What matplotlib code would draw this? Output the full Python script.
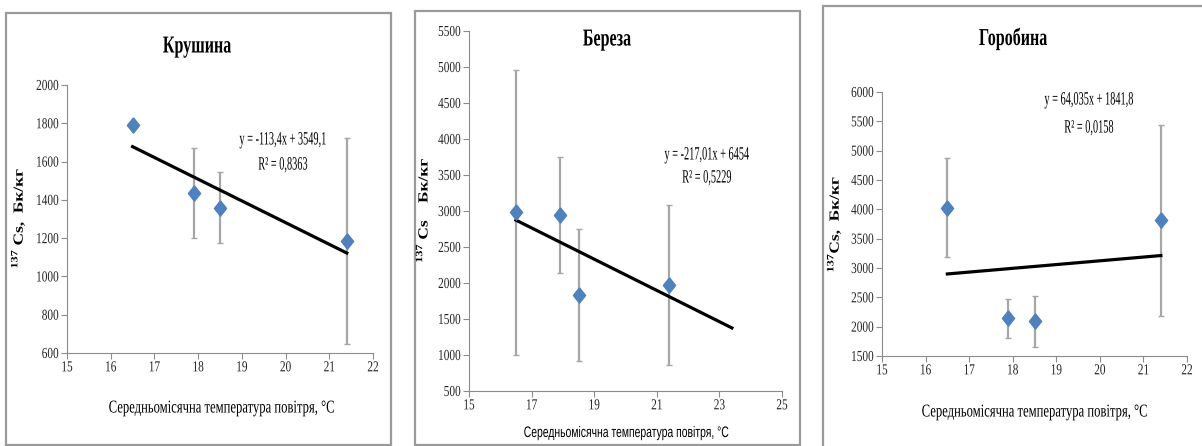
import matplotlib
matplotlib.use("Agg")
import matplotlib.pyplot as plt
import matplotlib.patches as patches
from matplotlib.patheffects import AbstractPathEffect
from matplotlib.transforms import Affine2D
import numpy as np

# -----------------------
# Data
# -----------------------

temp = [16.5, 17.9, 18.5, 21.4]

krushyna = [1790, 1435, 1360, 1185]
krushyna_err = [0, 235, 183, 538]

bereza = [2980, 2940, 1830, 1970]
bereza_err = [1980, 805, 920, 1115]

horobyna = [4030, 2140, 2090, 3810]
horobyna_err = [850, 340, 430, 1630]

# trend coefficients (slope, intercept)
trend_krushyna = (-113.4, 3549.1)
trend_bereza = (-217.01, 6454)
trend_horobyna = (64.035, 1841.8)

eq_krushyna = ["y = -113,4x + 3549,1", "R² = 0,8363"]
eq_bereza = ["y = -217,01x + 6454", "R² = 0,5229"]
eq_horobyna = ["y = 64,035x + 1841,8", "R² = 0,0158"]

xlabel = "Середньомісячна температура повітря, °C"

plt.rcParams["font.family"] = ["Liberation Serif", "DejaVu Serif"]
plt.rcParams["mathtext.fontset"] = "custom"
plt.rcParams["mathtext.rm"] = "Liberation Serif:bold"
plt.rcParams["mathtext.bf"] = "Liberation Serif:bold"

W, H = 1202, 446
fig = plt.figure(figsize=(W / 100, H / 100), dpi=100)


def px(x, y):
    return x / W, 1 - y / H


class Squeeze(AbstractPathEffect):
    # narrows text horizontally around a fixed pixel x
    def __init__(self, x0, sx):
        super().__init__()
        self.x0 = x0
        self.sx = sx

    def draw_path(self, renderer, gc, tpath, affine, rgbFace=None):
        t = affine + Affine2D().translate(-self.x0, 0).scale(self.sx, 1).translate(self.x0, 0)
        renderer.draw_path(gc, tpath, t, rgbFace)


squeeze_list = []  # (text, factor)

# -----------------------
# Frames
# -----------------------

frames = [(6, 13, 391, 445), (415, 11, 800, 445), (823, 6, 1215, 470)]
for x0, y0, x1, y1 in frames:
    fig.patches.append(patches.Rectangle(
        (x0 / W, 1 - y1 / H), (x1 - x0) / W, (y1 - y0) / H,
        transform=fig.transFigure, fill=False,
        edgecolor="#9a9a9a", linewidth=1.6))


def panel(box, y, yerr, trend, x_end, xlim, xticks, ylim, yticks, eq, eq_pos):
    ax = fig.add_axes(box)
    ax.errorbar(temp, y, yerr=yerr, fmt="none", ecolor="#a6a6a6",
                elinewidth=1.6, capsize=2.5, capthick=1.0)
    for c in ax.containers[-1].lines[1]:
        c.set_color("black")
    diamond = [(0, 1), (0.8, 0), (0, -1), (-0.8, 0), (0, 1)]
    ax.plot(temp, y, marker=diamond, ls="none", color="#4f81bd",
            markersize=11, zorder=3)
    xs = np.array([temp[0], x_end])
    ax.plot(xs, trend[0] * xs + trend[1], color="black", lw=2.3, zorder=2)
    ax.set_xlim(*xlim)
    ax.set_ylim(*ylim)
    ax.set_xticks(xticks)
    ax.set_yticks(yticks)
    for s in ["top", "right"]:
        ax.spines[s].set_visible(False)
    for s in ["left", "bottom"]:
        ax.spines[s].set_color("#8c8c8c")
    ax.tick_params(length=4, color="#8c8c8c", labelsize=11, pad=2,
                   labelcolor="#222222")
    for lab in ax.get_xticklabels() + ax.get_yticklabels():
        squeeze_list.append((lab, 0.74))
    t1 = ax.text(eq_pos[0], eq_pos[1], eq[0], ha="center", va="center", fontsize=13.5)
    t2 = ax.text(eq_pos[0], eq_pos[2], eq[1], ha="center", va="center", fontsize=13.5)
    squeeze_list.append((t1, 0.55))
    squeeze_list.append((t2, 0.55))
    return ax


def ftext(x, y, s, f, **kw):
    t = fig.text(*px(x, y), s, ha="center", va="center", **kw)
    squeeze_list.append((t, f))
    return t


# -----------------------
# Крушина
# -----------------------

panel([67 / W, 1 - 353 / H, 306 / W, 268 / H],
      krushyna, krushyna_err, trend_krushyna, 21.4,
      (15, 22), range(15, 23), (600, 2000), range(600, 2001, 200),
      eq_krushyna, (19.94, 1713, 1582))

ftext(197, 47, "Крушина", 0.66, fontsize=17.5, fontweight="bold")
ftext(221, 408, xlabel, 0.7, fontsize=13)
ftext(18, 218, "$^{137}$ Cs,  Бк/кг", 0.8, rotation=90, fontsize=12.5,
      fontweight="bold")

# -----------------------
# Береза
# -----------------------

panel([469 / W, 1 - 391 / H, 313 / W, 360 / H],
      bereza, bereza_err, trend_bereza, 23.4,
      (15, 25), range(15, 26, 2), (500, 5500), range(500, 5501, 500),
      eq_bereza, (22.6, 3778, 3458))

ftext(607, 40, "Береза", 0.66, fontsize=17.5, fontweight="bold")
ftext(626, 433, xlabel, 0.68, fontsize=11,
      family=["Liberation Sans", "DejaVu Sans"])
ftext(423, 210, "$^{137}$ Cs    Бк/кг", 0.8, rotation=90, fontsize=12.5,
      fontweight="bold")

# -----------------------
# Горобина
# -----------------------

panel([882 / W, 1 - 356 / H, 305 / W, 264 / H],
      horobyna, horobyna_err, trend_horobyna, 21.4,
      (15, 22), range(15, 23), (1500, 6000), range(1500, 6001, 500),
      eq_horobyna, (19.75, 5864, 5386))

ftext(1013, 39, "Горобина", 0.66, fontsize=17.5, fontweight="bold")
ftext(1034, 412, xlabel, 0.7, fontsize=13)
ftext(834, 224, "$^{137}$Cs,  Бк/кг", 0.8, rotation=90, fontsize=12.5,
      fontweight="bold")

# -----------------------
# Condense text like the source
# -----------------------

fig.canvas.draw()
renderer = fig.canvas.get_renderer()
for t, f in squeeze_list:
    bb = t.get_window_extent(renderer)
    if t.get_ha() == "right":
        x0 = bb.x1
    else:
        x0 = (bb.x0 + bb.x1) / 2
    t.set_path_effects([Squeeze(x0, f)])

fig.savefig("out.png", dpi=100)
